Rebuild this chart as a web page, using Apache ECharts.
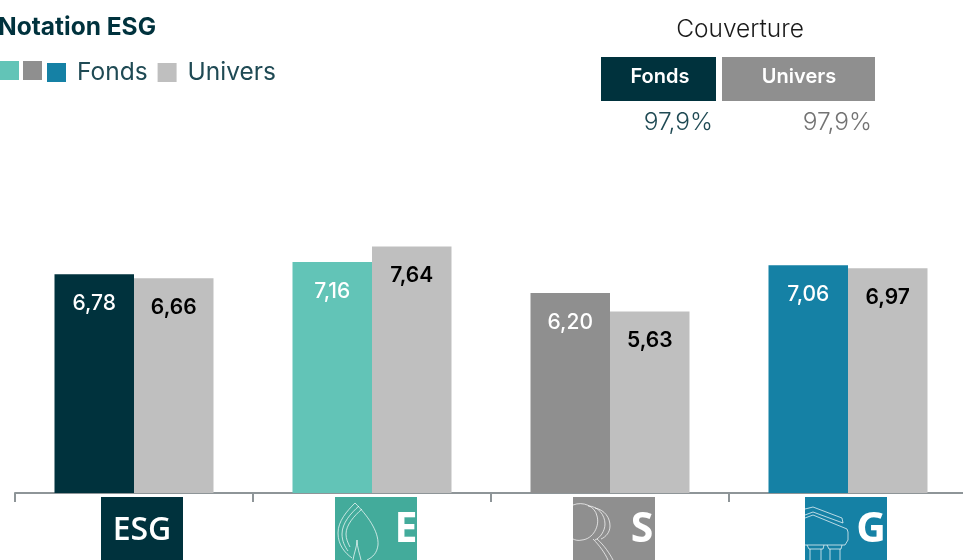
<!DOCTYPE html>
<html>
<head>
<meta charset="utf-8">
<title>Notation ESG</title>
<style>
html, body { margin: 0; padding: 0; background: #fff; }
#chart { width: 963px; height: 560px; }
</style>
<script src="https://cdn.jsdelivr.net/npm/echarts@6/dist/echarts.min.js"></script>
</head>
<body>
<div id="chart"></div>
<script>
var categories = ['ESG', 'E', 'S', 'G'];
var fonds = [6.78, 7.16, 6.20, 7.06];
var univers = [6.66, 7.64, 5.63, 6.97];
var couverture = ['97,9%', '97,9%'];

var fontName = 'Inter';
var boxFont = '"Open Sans"';
var dark = '#00323d';
var fondsColors = [dark, '#62c4b7', '#8f8f8f', '#1581a5'];
var boxColors = [dark, '#43ab9b', '#8f8f8f', '#1581a5'];
var boxLeft = [101, 335, 573, 805];

function frLabel(params) {
	return params.value.toFixed(2).replace('.', ',');
}

function rect(x, y, w, h, color) {
	return { type: 'rect', shape: { x: x, y: y, width: w, height: h }, style: { fill: color }, silent: true };
}

function text(str, x, y, size, color, align, weight, font) {
	return {
		type: 'text', x: x, y: y, silent: true,
		style: { text: str, fill: color, font: (weight || 400) + ' ' + size + 'px ' + (font || fontName), textAlign: align, textVerticalAlign: 'middle' }
	};
}

// the graphic component has no 'path' type, so the pictos are registered as shapes
echarts.graphic.registerShape('leaf', echarts.graphic.extendPath('M18 0 C30 12 42 28 41 42 C40 50 36 54 30 57 M18 0 C10 8 1 18 1 30 C1 42 8 50 15 55 M22 3 C14 10 5 20 5 31 C5 38 8 44 11 48 M25 6 C17 13 9 22 9 31 C9 36 11 40 13 44 M20 37 C20 44 17 50 16 57 M20 37 C20 44 23 52 24 57'));
echarts.graphic.registerShape('head', echarts.graphic.extendPath('M0 2 C10 -2 22 3 24 13 C27 23 20 36 9 37 C5 38 2 37 0 36 M15 3 C25 3 32 12 32 21 C32 28 27 35 22 37 M22 5 C32 7 37 15 37 23 C37 29 33 34 28 36 M20 36 C26 42 32 50 35 57 M24 36 C31 42 37 51 40 57'));
echarts.graphic.registerShape('building', echarts.graphic.extendPath('M0 6 L8 4 L37 15 L38 20 L8 9 L0 12 M0 15 L8 12 L42 26 L43 29 L43 37 L40 42 L0 42 M2 42 L4 46 L18 46 L19 42 M5 46 L5 57 M16 46 L16 57 M22 42 L24 46 L36 46 L37 42 M25 46 L25 57 M35 46 L35 57'));

function picto(type, x, y) {
	return {
		type: type, x: x, y: y, silent: true,
		style: { fill: 'none', stroke: 'rgba(255,255,255,0.7)', lineWidth: 1 }
	};
}

var graphics = [
	// couverture table
	text('Couverture', 740, 30, 24.5, '#1a1a1a', 'center', 300),
	rect(601, 57, 115, 44, dark),
	rect(722, 57, 153, 44, '#8f8f8f'),
	text('Fonds', 660, 77, 20, '#fff', 'center', 600),
	text('Univers', 799, 77, 20, '#fff', 'center', 600),
	text(couverture[0], 713, 123, 24.5, '#1f4a54', 'right', 300),
	text(couverture[1], 872, 123, 24.5, '#737373', 'right', 300),
	// extra legend swatches for the E and S colours
	rect(0, 61, 19, 19, fondsColors[1]),
	rect(23, 61, 19, 19, fondsColors[2])
];

// pillar boxes under the axis
categories.forEach(function(name, i) {
	graphics.push(rect(boxLeft[i], 497, 82, 63, boxColors[i]));
});
graphics.push(text(categories[0], 142, 531, 32, '#fff', 'center', 600, boxFont));
graphics.push(text(categories[1], 406, 530, 41, '#fff', 'center', 700, boxFont));
graphics.push(text(categories[2], 642, 530, 41, '#fff', 'center', 700, boxFont));
graphics.push(text(categories[3], 871, 530, 41, '#fff', 'center', 700, boxFont));
graphics.push(picto('leaf', 337, 503));
graphics.push(picto('head', 573, 503));
graphics.push(picto('building', 805, 503));

var chart = echarts.init(document.getElementById('chart'));

var option = {
	animation: false,
	backgroundColor: '#fff',
	textStyle: { fontFamily: fontName },
	title: {
		text: 'Notation ESG',
		left: -7,
		top: 10,
		textStyle: { color: dark, fontSize: 24.5, fontWeight: 700, fontFamily: fontName }
	},
	legend: {
		left: 42,
		top: 55,
		itemWidth: 19,
		itemHeight: 19,
		itemGap: 10,
		icon: 'rect',
		textStyle: { color: '#1f4a54', fontSize: 24.5, fontWeight: 400, fontFamily: fontName, padding: [0, 0, 0, 6] },
		data: [
			{ name: 'Fonds', itemStyle: { color: fondsColors[3] } },
			{ name: 'Univers', itemStyle: { color: '#bfbfbf' } }
		]
	},
	grid: { left: 15, width: 952, top: 170.5, height: 322.5, outerBoundsMode: 'none' },
	xAxis: {
		type: 'category',
		data: categories,
		axisLine: { lineStyle: { color: '#8e9598', width: 2 } },
		axisTick: { show: true, length: 9, lineStyle: { color: '#8e9598', width: 2 } },
		axisLabel: { show: false }
	},
	yAxis: { type: 'value', min: 0, max: 10, show: false },
	series: [
		{
			name: 'Fonds',
			type: 'bar',
			barWidth: 79.5,
			barGap: 0,
			data: fonds.map(function(v, i) {
				return { value: v, itemStyle: { color: fondsColors[i] } };
			}),
			label: { show: true, position: 'insideTop', distance: 19, color: '#fff', fontSize: 21, fontWeight: 500, formatter: frLabel }
		},
		{
			name: 'Univers',
			type: 'bar',
			barWidth: 79.5,
			itemStyle: { color: '#bfbfbf' },
			data: univers,
			label: { show: true, position: 'insideTop', distance: 19, color: '#000', fontSize: 21, fontWeight: 600, formatter: frLabel }
		}
	],
	graphic: graphics
};

chart.setOption(option);
</script>
</body>
</html>
